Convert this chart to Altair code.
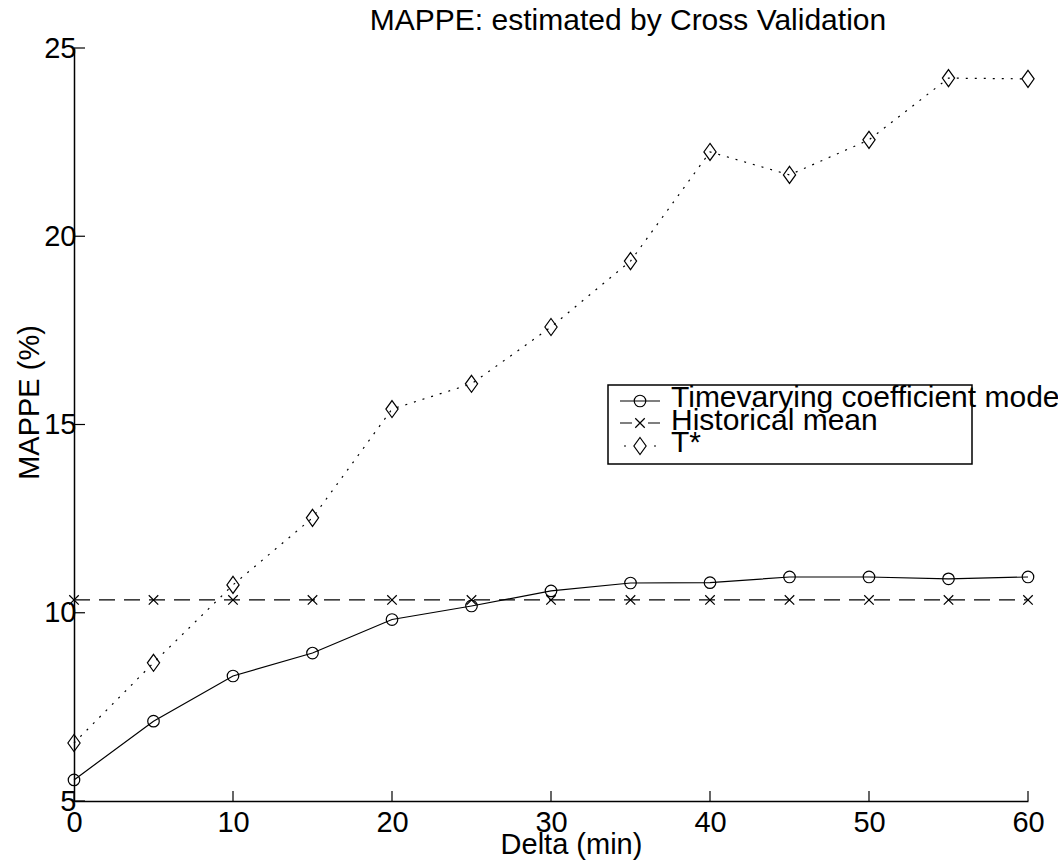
import altair as alt
import pandas as pd

# ---- data ----
delta = [0, 5, 10, 15, 20, 25, 30, 35, 40, 45, 50, 55, 60]
timevarying = [5.56, 7.12, 8.32, 8.93, 9.82, 10.18, 10.58, 10.79, 10.80, 10.95, 10.95, 10.90, 10.95]
historical = [10.34, 10.34, 10.34, 10.34, 10.34, 10.34, 10.34, 10.34, 10.34, 10.34, 10.34, 10.34, 10.34]
tstar = [6.54, 8.67, 10.74, 12.52, 15.41, 16.08, 17.59, 19.34, 22.24, 21.63, 22.56, 24.20, 24.18]
series_names = ["Timevarying coefficient model", "Historical mean", "T*"]
x_ticks = [0, 10, 20, 30, 40, 50, 60]
y_ticks = [5, 10, 15, 20, 25]

W, H = 954, 753
FONT = "Liberation Sans"
X_SHAPE = "M-1,-1L1,1M-1,1L1,-1"
DIAMOND = "M0,-1L0.72,0L0,1L-0.72,0Z"

x_enc = alt.X(
    "delta:Q",
    scale=alt.Scale(domain=[0, 60], nice=False, zero=False),
    axis=alt.Axis(
        values=x_ticks, title="Delta (min)", grid=False, ticks=False, tickSize=0,
        domainColor="black", domainWidth=1.5, labelFont=FONT, labelFontSize=29,
        labelColor="black", labelPadding=7, labelFlush=False, labelOverlap=False,
        titleFont=FONT, titleFontSize=29, titleFontWeight="normal", titleColor="black",
        titleX=497, titleY=52, titleBaseline="alphabetic", titleAlign="center",
    ),
)
y_enc = alt.Y(
    "value:Q",
    scale=alt.Scale(domain=[5, 25], nice=False, zero=False),
    axis=alt.Axis(
        values=y_ticks, title="MAPPE (%)", grid=False, ticks=False, tickSize=0,
        domainColor="black", domainWidth=1.5, labelFont=FONT, labelFontSize=29,
        labelColor="black", labelPadding=-2, labelFlush=False, labelOverlap=False,
        titleFont=FONT, titleFontSize=29, titleFontWeight="normal", titleColor="black",
        titleX=-36, titleY=354, titleAngle=-90, titleBaseline="alphabetic", titleAlign="center",
    ),
)


def series_layers(values, shape, size, dash=None):
    d = pd.DataFrame({"delta": delta, "value": values})
    kw = {"strokeDash": dash} if dash else {}
    line = alt.Chart(d).mark_line(color="black", strokeWidth=1.2, **kw).encode(x=x_enc, y=y_enc)
    pts = alt.Chart(d).mark_point(
        shape=shape, size=size, filled=False, color="black", strokeWidth=1.2, opacity=1
    ).encode(x=x_enc, y=y_enc)
    return [line, pts]


layers = []
layers += series_layers(timevarying, "circle", 133)
layers += series_layers(historical, X_SHAPE, 90, [16, 9])
layers += series_layers(tstar, DIAMOND, 289, [2, 7])

# inward ticks
ytick_df = pd.DataFrame({"value": y_ticks})
xtick_df = pd.DataFrame({"delta": x_ticks})
layers.append(
    alt.Chart(ytick_df).mark_rule(color="black", strokeWidth=1.2).encode(
        y=y_enc, x=alt.value(0), x2=alt.value(11)
    )
)
layers.append(
    alt.Chart(xtick_df).mark_rule(color="black", strokeWidth=1.2).encode(
        x=x_enc, y=alt.value(H), y2=alt.value(H - 10)
    )
)

# legend (decoration)
one = pd.DataFrame({"k": [0]})
layers.append(
    alt.Chart(one).mark_rect(fill="white", stroke="black", strokeWidth=1.5).encode(
        x=alt.value(534), x2=alt.value(898), y=alt.value(337), y2=alt.value(416)
    )
)
leg_rows = [(353, 359), (375, 381.5), (398, 404)]
leg_shapes = [("circle", 133), (X_SHAPE, 90), (DIAMOND, 289)]
leg_dash = [None, [12, 16], [2, 28]]
for i, name in enumerate(series_names):
    ym, yb = leg_rows[i]
    kw = {"strokeDash": leg_dash[i]} if leg_dash[i] else {}
    x0 = 546 if i < 2 else 550
    layers.append(
        alt.Chart(one).mark_rule(color="black", strokeWidth=1.2, **kw).encode(
            x=alt.value(x0), x2=alt.value(586), y=alt.value(ym)
        )
    )
    layers.append(
        alt.Chart(one).mark_point(
            shape=leg_shapes[i][0], size=leg_shapes[i][1], filled=False,
            color="black", strokeWidth=1.2, opacity=1,
        ).encode(x=alt.value(566), y=alt.value(ym))
    )
    layers.append(
        alt.Chart(one).mark_text(
            align="left", baseline="alphabetic", font=FONT, fontSize=30, color="black"
        ).encode(x=alt.value(597), y=alt.value(yb), text=alt.value(name))
    )

chart = (
    alt.layer(*layers)
    .properties(
        width=W,
        height=H,
        padding={"left": 74, "top": 48, "right": 30, "bottom": 60},
        autosize=alt.AutoSizeParams(type="none"),
        title=alt.TitleParams(
            "MAPPE: estimated by Cross Validation", font=FONT, fontSize=30,
            fontWeight="normal", color="black", anchor="middle", dx=77, dy=26,
            baseline="alphabetic", offset=0,
        ),
        background="white",
    )
    .configure_view(stroke=None)
)

chart.save("out.html", embed_options={"renderer": "svg", "actions": False})
